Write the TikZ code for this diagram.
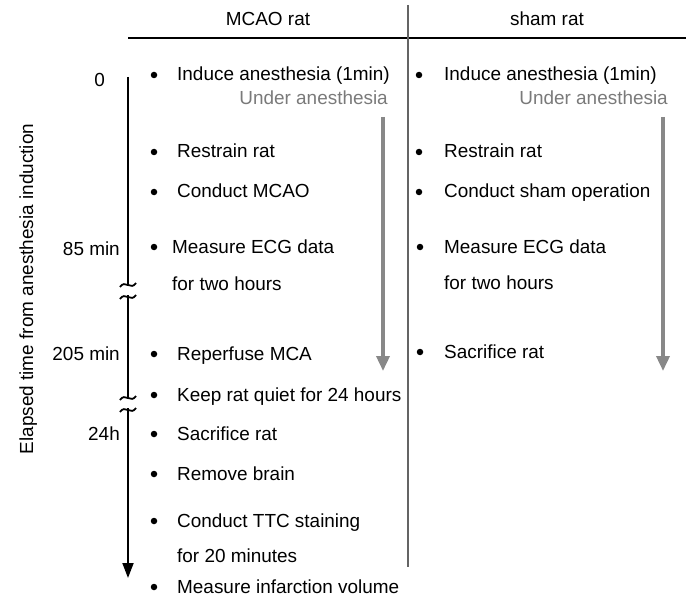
\documentclass[tikz,border=0pt]{standalone}
\usepackage{fontspec}
\setmainfont{Liberation Sans}
\usetikzlibrary{arrows.meta}
\definecolor{greyarrow}{RGB}{136,136,136}
\definecolor{greytext}{RGB}{122,122,122}
\definecolor{greyline}{RGB}{100,100,100}
\newcommand\itm[5]{%
  \node[dotmark] (#1b) at (#2-1,#4-6) {};
  \node[txt] (#1) at (#3,#4) {#5};}
\newcommand\brk[2]{%
  \draw[brkmark] (#1-8,#2+2) .. controls (#1-3,#2-6) and (#1+3,#2+6) .. (#1+8,#2-2);}
\begin{document}
\begin{tikzpicture}[x=1bp,y=-1bp,
  txt/.style={anchor=base west,inner sep=0pt,font=\fontsize{19}{22}\selectfont},
  grey/.style={txt,anchor=base east,text=greytext},
  tlabel/.style={txt,anchor=base east},
  dotmark/.style={circle,fill=black,inner sep=0pt,minimum size=6.5bp},
  axis/.style={line width=1.8bp,black},
  brkmark/.style={line width=1.8bp,black},
  garrow/.style={line width=3.5bp,greyarrow,-{Triangle[length=15bp,width=13bp]}},
  divider/.style={line width=2bp,greyline}]
\useasboundingbox (0,0) rectangle (686,598);
% headers
\node[txt,anchor=base] (hM) at (268,26) {MCAO rat};
\node[txt,anchor=base] (hS) at (547,26) {sham rat};
\coordinate (hl) at (128,38);
\coordinate (hr) at (686,38);
\draw[line width=1.5bp] (hl) -- (hr);
\coordinate (dt) at (408,5);
\coordinate (db) at (408,567);
\draw[divider] (dt) -- (db);
% axis
\coordinate (a0) at (128,77);
\coordinate (a1) at (128,286);
\coordinate (a2) at (128,295);
\coordinate (a3) at (128,399);
\coordinate (a4) at (128,408);
\coordinate (a5) at (128,578);
\draw[axis] (a0) -- (a1);
\draw[axis] (a2) -- (a3);
\draw[axis,-{Triangle[length=15bp,width=11bp]}] (a4) -- (a5);
\brk{128}{285}
\brk{128}{297}
\brk{128}{398}
\brk{128}{410}
% time labels
\node[tlabel] (t0) at (105,87) {0};
\node[tlabel] (t85) at (120,255) {85 min};
\node[tlabel] (t205) at (120,360) {205 min};
\node[tlabel] (t24) at (120,440) {24h};
\node[txt,anchor=base,rotate=90] (ylab) at (33,289) {Elapsed time from anesthesia induction};
% MCAO column
\itm{m1}{155}{177}{81}{Induce anesthesia (1min)}
\node[grey] (mu) at (388,105) {Under anesthesia};
\itm{m2}{155}{177}{158}{Restrain rat}
\itm{m3}{155}{177}{198}{Conduct MCAO}
\itm{m4}{155}{172}{253}{Measure ECG data}
\node[txt] (m4b2) at (172,290) {for two hours};
\itm{m5}{155}{177}{360}{Reperfuse MCA}
\itm{m6}{155}{177}{401}{Keep rat quiet for 24 hours}
\itm{m7}{155}{177}{440}{Sacrifice rat}
\itm{m8}{155}{177}{480}{Remove brain}
\itm{m9}{155}{177}{527}{Conduct TTC staining}
\node[txt] (m9b2) at (177,562) {for 20 minutes};
\itm{m10}{155}{177}{593}{Measure infarction volume}
% sham column
\itm{s1}{420}{444}{81}{Induce anesthesia (1min)}
\node[grey] (su) at (668,105) {Under anesthesia};
\itm{s2}{420}{444}{158}{Restrain rat}
\itm{s3}{420}{444}{198}{Conduct sham operation}
\itm{s4}{421}{444}{253}{Measure ECG data}
\node[txt] (s4b2) at (444,289) {for two hours};
\itm{s5}{421}{444}{358}{Sacrifice rat}
% grey arrows
\coordinate (g1t) at (383,117);
\coordinate (g1b) at (383,371);
\coordinate (g2t) at (663,117);
\coordinate (g2b) at (663,371);
\draw[garrow] (g1t) -- (g1b);
\draw[garrow] (g2t) -- (g2b);
\end{tikzpicture}
\end{document}
